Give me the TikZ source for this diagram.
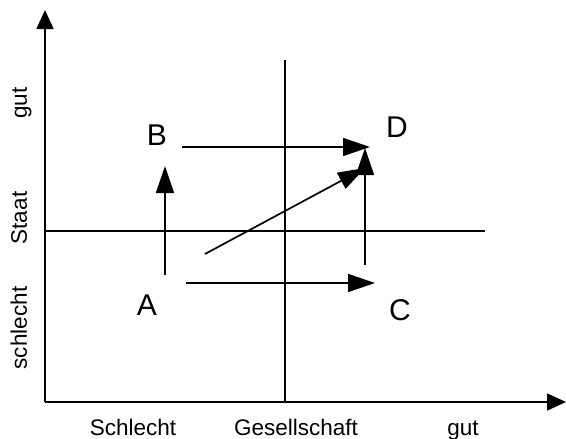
\documentclass[tikz,border=0pt]{standalone}
\usepackage{fontspec}
\setmainfont{Liberation Sans}
\usetikzlibrary{arrows.meta, positioning}

\begin{document}
\begin{tikzpicture}[x=1pt, y=-1pt, line width=1.7pt]
    % Define styles
    \tikzstyle{axis} = [-{Triangle[length=19pt, width=17pt]}]
    \tikzstyle{move} = [-{Triangle[length=27pt, width=18pt]}]
    \tikzstyle{corner} = [font=\fontsize{30}{32}\selectfont, inner sep=0pt]
    \tikzstyle{axislabel} = [font=\fontsize{22.5}{25}\selectfont, inner sep=0pt, anchor=base]

    \useasboundingbox (0,0) rectangle (566,439);

    % Axes
    \coordinate (origin) at (45,402);
    \coordinate (ytop) at (45,10);
    \coordinate (xend) at (566,402);
    \draw[axis] (origin) -- (ytop);
    \draw[axis] (origin) -- (xend);

    % Cross lines
    \coordinate (vtop) at (285,60);
    \coordinate (vbot) at (285,402);
    \coordinate (hleft) at (45,231);
    \coordinate (hright) at (485,231);
    \draw (vtop) -- (vbot);
    \draw (hleft) -- (hright);

    % Labels
    \node[corner] (A) at (147,305) {A};
    \node[corner] (B) at (157,135) {B};
    \node[corner] (C) at (400,310) {C};
    \node[corner] (D) at (397,127) {D};

    \node[axislabel, rotate=90] (ygut) at (27,103) {gut};
    \node[axislabel, rotate=90] (staat) at (27,218) {Staat};
    \node[axislabel, rotate=90] (yschlecht) at (27,328) {schlecht};
    \node[axislabel] (xschlecht) at (133,435) {Schlecht};
    \node[axislabel] (gesellschaft) at (296,435) {Gesellschaft};
    \node[axislabel] (xgut) at (463,435) {gut};

    % Arrow end points
    \coordinate (AB0) at (165,275);
    \coordinate (AB1) at (165,166);
    \coordinate (AC0) at (186,283);
    \coordinate (AC1) at (375,283);
    \coordinate (BD0) at (182,147);
    \coordinate (BD1) at (370,147);
    \coordinate (CD0) at (365,265);
    \coordinate (CD1) at (365,148);
    \coordinate (AD0) at (205,254);
    \coordinate (AD1) at (365,168);

    % Arrows
    \draw[move] (AB0) -- (AB1);
    \draw[move] (AC0) -- (AC1);
    \draw[move] (BD0) -- (BD1);
    \draw[move] (CD0) -- (CD1);
    \draw[move] (AD0) -- (AD1);
\end{tikzpicture}
\end{document}
